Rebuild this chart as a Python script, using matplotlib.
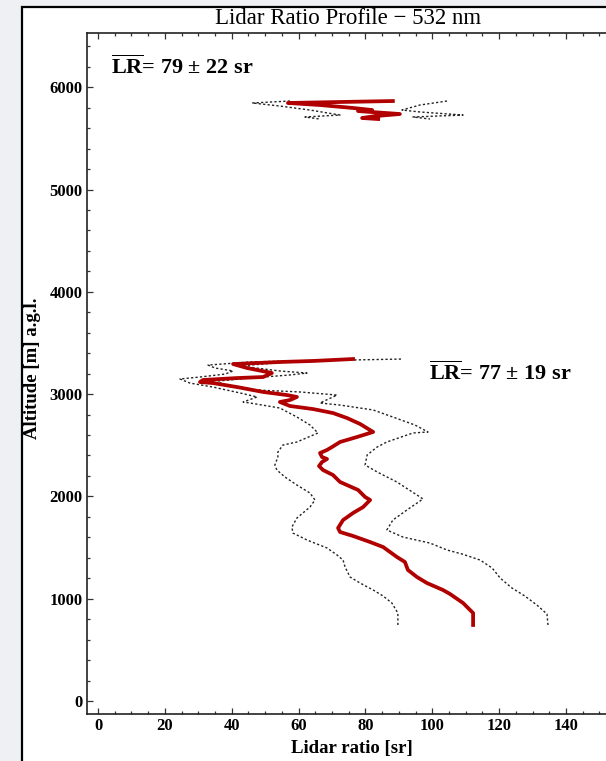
import numpy as np
import matplotlib
matplotlib.use("Agg")
import matplotlib.pyplot as plt
from matplotlib.patches import Rectangle
from matplotlib.ticker import MultipleLocator

# lower aerosol layer: mean lidar ratio and the dotted envelope
lr_low = [112.2, 112.2, 109.2, 105.3, 103.2, 98.4, 95.4, 92.7, 91.8, 89.4, 85.3, 81.4, 76.3,
          72.4, 71.8, 73.3, 76.3, 79.3, 81.4, 79.9, 77.8, 72.4, 70.3, 67.3, 66.1, 67.0, 68.5,
          67.0, 66.4, 68.5, 70.0, 72.4, 77.5, 82.3, 79.9, 78.4, 74.5, 70.3, 64.3, 57.4, 54.4,
          57.4, 59.5, 56.5, 49.4, 41.6, 34.4, 30.5, 31.4, 41.6, 49.4, 52.0, 50.6, 44.6, 40.4,
          54.4, 64.3, 76.3]
alt_low = [743, 860, 958, 1046, 1085, 1153, 1212, 1281, 1359, 1408, 1505, 1554, 1613,
           1652, 1691, 1769, 1838, 1896, 1965, 1994, 2063, 2141, 2209, 2258, 2297, 2336, 2366,
           2385, 2424, 2454, 2483, 2532, 2581, 2630, 2678, 2708, 2766, 2815, 2854, 2884, 2923,
           2942, 2972, 2991, 3021, 3069, 3108, 3118, 3138, 3157, 3167, 3206, 3216, 3255, 3294,
           3314, 3324, 3343]

lr_low_min = [89.7, 89.7, 87.9, 85.3, 82.3, 78.4, 75.4, 73.9, 73.3, 71.5, 68.5, 62.5, 58.3,
              58.0, 59.5, 63.4, 64.9, 63.4, 59.5, 55.9, 53.5, 52.9, 53.8, 53.8, 55.3, 59.5,
              65.8, 63.4, 59.5, 54.4, 45.5, 43.4, 47.6, 42.5, 34.4, 27.5, 24.5, 30.5, 38.0,
              40.4, 35.0, 32.9, 45.5, 68.5]
alt_low_min = [743, 860, 958, 1026, 1085, 1153, 1212, 1310, 1378, 1427, 1496, 1574, 1642,
               1701, 1789, 1896, 1965, 2033, 2111, 2190, 2258, 2307, 2385, 2434, 2502, 2532,
               2620, 2698, 2776, 2864, 2913, 2923, 2972, 3011, 3069, 3108, 3148, 3167, 3196,
               3226, 3255, 3284, 3314, 3333]

lr_low_max = [134.6, 134.3, 131.3, 127.7, 123.8, 120.3, 117.9, 114.3, 108.9, 104.4, 99.3,
              91.2, 86.4, 88.2, 92.4, 97.2, 95.4, 89.4, 83.5, 79.9, 80.5, 83.5, 86.4, 94.2,
              98.7, 94.8, 88.2, 82.3, 72.4, 66.4, 71.5, 60.4, 47.6, 37.1, 35.9, 45.5, 57.4,
              62.5, 54.4, 42.5, 60.4, 91.2]
alt_low_max = [743, 850, 938, 1026, 1105, 1202, 1300, 1378, 1437, 1476, 1544,
               1603, 1672, 1769, 1867, 1975, 2014, 2141, 2239, 2307, 2405, 2483, 2532, 2620,
               2630, 2698, 2776, 2845, 2893, 2913, 2991, 3021, 3040, 3099, 3128, 3157, 3187,
               3206, 3226, 3275, 3324, 3343]

# upper layer
lr_up = [88.2, 56.8, 66.4, 76.3, 82.0, 77.8, 90.3, 82.9, 79.0, 83.8]
alt_up = [5865, 5846, 5826, 5797, 5777, 5767, 5738, 5718, 5699, 5689]
lr_up_min = [57.4, 46.1, 54.4, 63.4, 72.4, 61.9, 66.4]
alt_up_min = [5865, 5846, 5816, 5777, 5728, 5709, 5689]
lr_up_max = [104.4, 96.3, 90.9, 96.3, 109.2, 94.2, 99.3]
alt_up_max = [5865, 5826, 5777, 5758, 5728, 5709, 5689]

x_ticks = [0, 20, 40, 60, 80, 100, 120, 140]
labels_mean = [r"$\overline{\mathrm{LR}}$= 79 ± 22 sr", r"$\overline{\mathrm{LR}}$= 77 ± 19 sr"]

plt.rcParams["font.family"] = ["Liberation Serif", "DejaVu Serif"]
plt.rcParams["mathtext.fontset"] = "custom"
plt.rcParams["mathtext.rm"] = "Liberation Serif:bold"

RED = "#b00000"
DOT = (0, (1.6, 1.6))


def main():
    fig = plt.figure(figsize=(6.06, 7.61), dpi=100)
    fig.patch.set_facecolor("#eef0f3")

    # white page with a black border, cropped at right and bottom
    bg = fig.add_axes([0, 0, 1, 1], zorder=-10)
    bg.axis("off")
    bg.set_xlim(0, 606)
    bg.set_ylim(761, 0)
    bg.add_patch(Rectangle((22, 7), 700, 800, facecolor="white",
                           edgecolor="black", lw=1.6))

    ax = fig.add_axes([87 / 606, 47 / 761, 0.9008, 681 / 761])
    ax.set_facecolor("white")

    ax.plot(lr_low_min, alt_low_min, color="#222222", lw=1.0, ls=DOT)
    ax.plot(lr_low_max, alt_low_max, color="#222222", lw=1.0, ls=DOT)
    ax.plot(lr_up_min, alt_up_min, color="#222222", lw=1.0, ls=DOT)
    ax.plot(lr_up_max, alt_up_max, color="#222222", lw=1.0, ls=DOT)
    ax.plot(lr_low, alt_low, color=RED, lw=2.7, solid_joinstyle="round")
    ax.plot(lr_up, alt_up, color=RED, lw=2.7, solid_joinstyle="round")

    ax.set_xlim(-3.3, 160)
    ax.set_ylim(-127, 6530)
    ax.set_xticks(x_ticks)
    ax.xaxis.set_minor_locator(MultipleLocator(5))
    ax.yaxis.set_major_locator(MultipleLocator(1000))
    ax.yaxis.set_minor_locator(MultipleLocator(200))
    ax.tick_params(which="both", direction="in", top=True, right=True,
                   width=0.9, color="#333333")
    ax.tick_params(which="major", length=4, labelsize=12, pad=3)
    ax.tick_params(which="minor", length=2.2)
    for lab in ax.get_xticklabels() + ax.get_yticklabels():
        lab.set_fontweight("bold")
    for sp in ax.spines.values():
        sp.set_linewidth(1.2)
        sp.set_color("#222222")

    ax.set_xlabel("Lidar ratio [sr]", fontsize=13.5, fontweight="bold")
    ax.set_ylabel("Altitude [m] a.g.l.", fontsize=13.5, fontweight="bold")
    ax.xaxis.set_label_coords(0.485, -0.038)
    ax.yaxis.set_label_coords(-0.084, 0.508)

    ax.text(3.9, 6197, labels_mean[0], fontsize=16, fontweight="bold", va="center")
    ax.text(99.0, 3206, labels_mean[1], fontsize=16, fontweight="bold", va="center")

    fig.text(348 / 606, 1 - 19 / 761, "Lidar Ratio Profile \u2212 532 nm",
             fontsize=16.5, ha="center", va="center")

    fig.savefig("out.png", dpi=100, facecolor=fig.get_facecolor())


if __name__ == "__main__":
    main()
